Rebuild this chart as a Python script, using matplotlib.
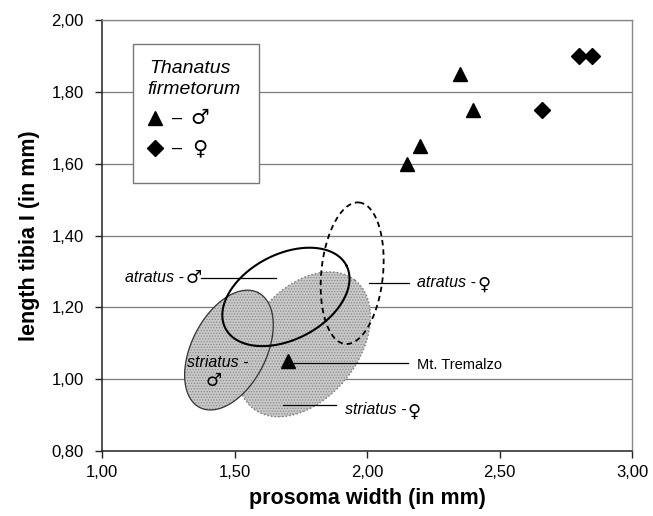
import numpy as np
import matplotlib
matplotlib.use("Agg")
import matplotlib.pyplot as plt
from matplotlib.patches import Rectangle

plt.rcParams['font.family'] = ['Liberation Sans', 'DejaVu Sans']
plt.rcParams['hatch.linewidth'] = 0.6

# ---- data ----
male_x = [2.15, 2.20, 2.35, 2.40]
male_y = [1.60, 1.65, 1.85, 1.75]
female_x = [2.66, 2.80, 2.85]
female_y = [1.75, 1.90, 1.90]
tremalzo_x = [1.70]
tremalzo_y = [1.05]

# ellipses: centre, end of first semi-axis, end of second semi-axis (data units)
atr_m_center = [1.694, 1.229]
atr_m_p = [1.922, 1.317]
atr_m_q = [1.769, 1.124]

atr_f_center = [1.944, 1.295]
atr_f_p = [1.970, 1.492]
atr_f_q = [2.060, 1.287]

str_f_center = [1.7625, 1.097]
str_f_p = [1.955, 1.2755]
str_f_q = [1.923, 1.003]

str_m_center = [1.479, 1.081]
str_m_p = [1.589, 1.241]
str_m_q = [1.605, 1.034]

x_ticks = [1.00, 1.50, 2.00, 2.50, 3.00]
y_ticks = [0.80, 1.00, 1.20, 1.40, 1.60, 1.80, 2.00]


def fmt(v):
    return f"{v:.2f}".replace('.', ',')


def ellipse_pts(c, p, q, n=300):
    t = np.linspace(0, 2 * np.pi, n)
    c = np.asarray(c); p = np.asarray(p) - c; q = np.asarray(q) - c
    x = c[0] + p[0] * np.cos(t) + q[0] * np.sin(t)
    y = c[1] + p[1] * np.cos(t) + q[1] * np.sin(t)
    return x, y


fig = plt.figure(figsize=(6.53, 5.16), dpi=100)
ax = fig.add_axes([102 / 653, 1 - 451 / 516, 530 / 653, 431 / 516])
ax.set_xlim(1.0, 3.0)
ax.set_ylim(0.8, 2.0)
ax.set_xticks(x_ticks)
ax.set_yticks(y_ticks)
ax.set_xticklabels([fmt(v) for v in x_ticks])
ax.set_yticklabels([fmt(v) for v in y_ticks])
ax.tick_params(axis='both', direction='out', length=5, width=1, labelsize=12, color='#222222')
ax.tick_params(axis='y', pad=8)
ax.tick_params(axis='x', pad=5)
for yv in y_ticks[1:]:
    ax.axhline(yv, color='#7a7a7a', lw=0.9, zorder=0)
for s in ['left', 'bottom']:
    ax.spines[s].set_color('#222222')
    ax.spines[s].set_linewidth(1.1)
for s in ['top', 'right']:
    ax.spines[s].set_color('#8a8a8a')
    ax.spines[s].set_linewidth(1.0)

ax.set_xlabel('prosoma width (in mm)', fontsize=15.5, fontweight='bold', labelpad=6)
ax.set_ylabel('length tibia I (in mm)', fontsize=15.5, fontweight='bold', labelpad=8)

gray = '#c9c9c9'
dots = '#8a8a8a'
# striatus female (big)
x, y = ellipse_pts(str_f_center, str_f_p, str_f_q)
ax.fill(x, y, facecolor=gray, edgecolor=dots, hatch='......', lw=0, zorder=2)
ax.plot(x, y, color='#7a7a7a', lw=1.0, linestyle=':', zorder=2)
# striatus male (small)
x, y = ellipse_pts(str_m_center, str_m_p, str_m_q)
ax.fill(x, y, facecolor=gray, edgecolor=dots, hatch='......', lw=0, zorder=3)
ax.plot(x, y, color='#333333', lw=0.9, zorder=3)
# atratus male
x, y = ellipse_pts(atr_m_center, atr_m_p, atr_m_q)
ax.plot(x, y, color='black', lw=1.5, zorder=4)
# atratus female
x, y = ellipse_pts(atr_f_center, atr_f_p, atr_f_q)
ax.plot(x, y, color='black', lw=1.3, linestyle=(0, (3, 2.2)), zorder=4)

# points
ax.plot(male_x, male_y, '^', color='black', ms=10, zorder=5)
ax.plot(female_x, female_y, 'D', color='black', ms=8, zorder=5)
ax.plot(tremalzo_x, tremalzo_y, '^', color='black', ms=10, zorder=5)

# leader lines
ax.plot([1.375, 1.658], [1.282, 1.282], color='black', lw=0.9, zorder=5)
ax.plot([2.007, 2.158], [1.269, 1.269], color='black', lw=0.9, zorder=5)
ax.plot([1.726, 2.154], [1.045, 1.045], color='black', lw=0.9, zorder=5)
ax.plot([1.682, 1.883], [0.928, 0.928], color='black', lw=0.9, zorder=5)

sym = dict(family='DejaVu Sans', fontsize=13, zorder=6)
ita = dict(style='italic', fontsize=11.5, zorder=6)
# atratus male
ax.text(1.31, 1.282, 'atratus -', ha='right', va='center', **ita)
ax.text(1.315, 1.282, '♂', ha='left', va='center', **sym)
# atratus female
ax.text(2.187, 1.270, 'atratus -', ha='left', va='center', **ita)
ax.text(2.418, 1.262, '♀', ha='left', va='center', **sym)
# Mt. Tremalzo
ax.text(2.19, 1.040, 'Mt. Tremalzo', ha='left', va='center', fontsize=10.5, zorder=6)
# striatus female
ax.text(1.918, 0.916, 'striatus -', ha='left', va='center', **ita)
ax.text(2.152, 0.908, '♀', ha='left', va='center', **sym)
# striatus male
ax.text(1.435, 1.047, 'striatus -', ha='center', va='center', **ita)
ax.text(1.42, 0.995, '♂', ha='center', va='center', **sym)

# legend box
ax.add_patch(Rectangle((0.058, 0.6225), 0.2377, 0.3215, transform=ax.transAxes,
                       facecolor='white', edgecolor='#777777', lw=1.0, zorder=6))
ax.text(0.090, 0.888, 'Thanatus', transform=ax.transAxes, style='italic', fontsize=14,
        ha='left', va='center', zorder=7)
ax.text(0.085, 0.838, 'firmetorum', transform=ax.transAxes, style='italic', fontsize=14,
        ha='left', va='center', zorder=7)
ax.plot([0.100], [0.7726], '^', color='black', ms=10, transform=ax.transAxes, zorder=7, clip_on=False)
ax.plot([0.100], [0.703], 'D', color='black', ms=8, transform=ax.transAxes, zorder=7, clip_on=False)
ax.text(0.141, 0.7726, '–', transform=ax.transAxes, fontsize=13, ha='center', va='center', zorder=7)
ax.text(0.141, 0.703, '–', transform=ax.transAxes, fontsize=13, ha='center', va='center', zorder=7)
ax.text(0.185, 0.7726, '♂', transform=ax.transAxes, family='DejaVu Sans', fontsize=15,
        ha='center', va='center', zorder=7)
ax.text(0.185, 0.703, '♀', transform=ax.transAxes, family='DejaVu Sans', fontsize=15,
        ha='center', va='center', zorder=7)

fig.savefig('out.png', dpi=100)
